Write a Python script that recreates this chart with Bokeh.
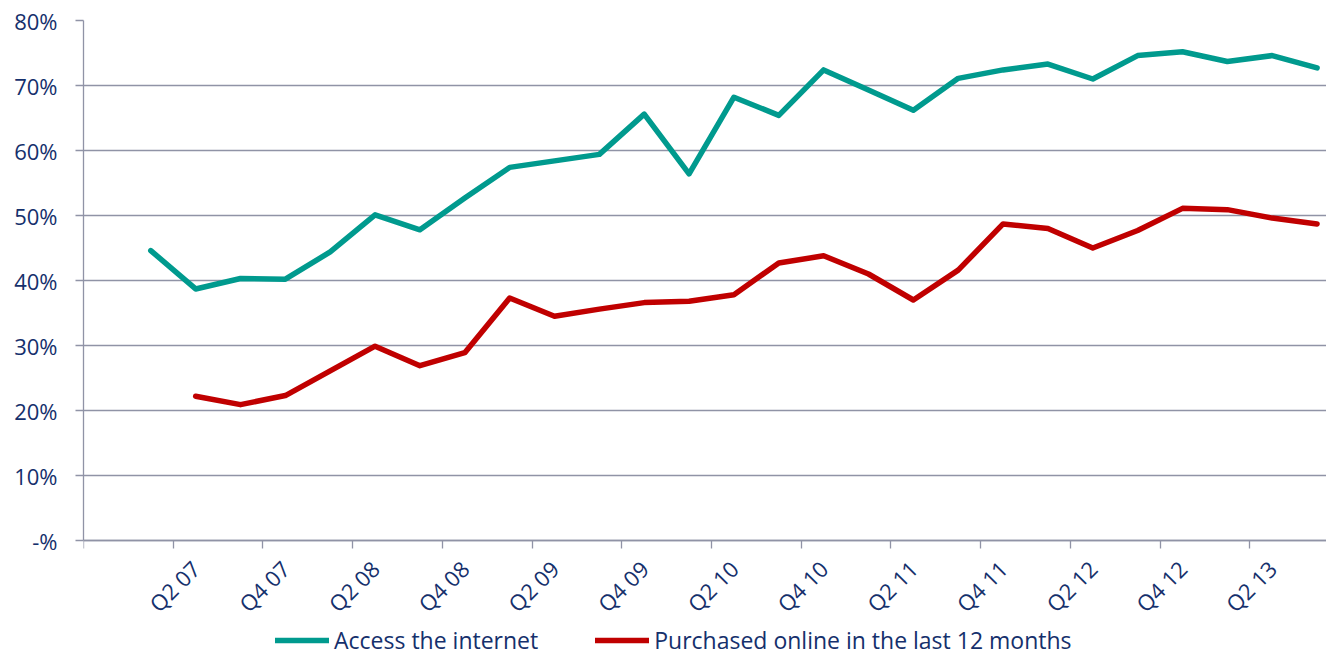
import math
from bokeh.plotting import figure
from bokeh.models import FixedTicker, Range1d, ColumnDataSource
from bokeh.embed import file_html
from bokeh.resources import INLINE

# ---- data -------------------------------------------------------------
quarters = ["Q4 06", "Q1 07", "Q2 07", "Q3 07", "Q4 07", "Q1 08", "Q2 08",
            "Q3 08", "Q4 08", "Q1 09", "Q2 09", "Q3 09", "Q4 09", "Q1 10",
            "Q2 10", "Q3 10", "Q4 10", "Q1 11", "Q2 11", "Q3 11", "Q4 11",
            "Q1 12", "Q2 12", "Q3 12", "Q4 12", "Q1 13", "Q2 13", "Q3 13"]

access_internet = [None, 44.6, 38.7, 40.3, 40.2, 44.4, 50.1, 47.8, 52.7,
                   57.4, 58.4, 59.4, 65.6, 56.4, 68.2, 65.4, 72.4, 69.3,
                   66.2, 71.1, 72.4, 73.3, 71.0, 74.6, 75.2, 73.7, 74.6, 72.7]

purchased_online = [None, None, 22.2, 20.9, 22.3, 26.1, 29.9, 26.9, 28.9,
                    37.3, 34.5, 35.6, 36.6, 36.8, 37.8, 42.7, 43.8, 41.0,
                    37.0, 41.6, 48.7, 48.0, 45.0, 47.7, 51.1, 50.9, 49.6, 48.7]

y_ticks = [0, 10, 20, 30, 40, 50, 60, 70, 80]
y_labels = ["-%", "10%", "20%", "30%", "40%", "50%", "60%", "70%", "80%"]

# ---- style ------------------------------------------------------------
FONT = "Open Sans"
FONT_SIZE = "22px"
LEGEND_FONT_SIZE = "23px"
TEXT_COLOR = "#15306C"
GRID_COLOR = "#9093A6"
TEAL = "#009A8E"
RED = "#C00000"

nan = float("nan")
xpos = [i + 0.5 for i in range(len(quarters))]
src = ColumnDataSource(dict(
    x=xpos,
    access=[nan if v is None else v for v in access_internet],
    purchased=[nan if v is None else v for v in purchased_online],
))

# The frame reaches the bottom of the page; the x axis sits at y = 0 and the
# legend lives in the empty strip under it (inside the frame, so not clipped).
p = figure(frame_width=1243, frame_height=637,
           output_backend="svg", toolbar_location=None,
           x_range=Range1d(0, 27.71), y_range=Range1d(-18, 80),
           min_border_left=83, min_border_right=0, min_border_top=20,
           min_border_bottom=0)
p.outline_line_color = None
p.background_fill_color = "white"
p.border_fill_color = "white"

p.line("x", "access", source=src, color=TEAL, line_width=5.5,
       line_join="round", line_cap="round", legend_label="Access the internet")
p.line("x", "purchased", source=src, color=RED, line_width=5.5,
       line_join="round", line_cap="round",
       legend_label="Purchased online in the last 12 months")

# grid
p.xgrid.grid_line_color = None
p.ygrid.grid_line_color = GRID_COLOR
p.ygrid.grid_line_width = 1.3

# y axis
p.yaxis.ticker = FixedTicker(ticks=y_ticks)
p.yaxis.bounds = (0, 80)
p.yaxis.major_label_overrides = {t: l for t, l in zip(y_ticks, y_labels)}
p.yaxis.axis_line_color = GRID_COLOR
p.yaxis.axis_line_width = 1.3
p.yaxis.major_tick_line_color = GRID_COLOR
p.yaxis.major_tick_line_width = 1.3
p.yaxis.major_tick_out = 8
p.yaxis.major_tick_in = 0
p.yaxis.minor_tick_line_color = None
p.yaxis.major_label_standoff = 18
p.yaxis.major_label_text_font = FONT
p.yaxis.major_label_text_font_size = FONT_SIZE
p.yaxis.major_label_text_color = TEXT_COLOR

# x axis at 0 %: labels on every second quarter, tick marks between pairs
label_idx = list(range(2, len(quarters), 2))
p.xaxis.fixed_location = 0
p.xaxis.ticker = FixedTicker(ticks=[xpos[i] for i in label_idx],
                             minor_ticks=[float(i) for i in range(0, len(quarters), 2)])
p.xaxis.major_label_overrides = {xpos[i]: quarters[i] for i in label_idx}
p.xaxis.axis_line_color = GRID_COLOR
p.xaxis.axis_line_width = 1.3
p.xaxis.major_tick_line_color = None
p.xaxis.major_tick_out = 0
p.xaxis.major_tick_in = 0
p.xaxis.minor_tick_line_color = GRID_COLOR
p.xaxis.minor_tick_line_width = 1.3
p.xaxis.minor_tick_out = 8
p.xaxis.minor_tick_in = 0
p.xaxis.major_label_orientation = math.pi / 4
p.xaxis.major_label_standoff = 16
p.xaxis.major_label_text_font = FONT
p.xaxis.major_label_text_font_size = FONT_SIZE
p.xaxis.major_label_text_color = TEXT_COLOR

# legend
lg = p.legend[0]
lg.orientation = "horizontal"
lg.location = (192, 1)
lg.glyph_width = 54
lg.glyph_height = 20
lg.label_standoff = 5
lg.spacing = 57
lg.padding = 0
lg.margin = 0
lg.border_line_color = None
lg.background_fill_alpha = 0
lg.label_text_font = FONT
lg.label_text_font_size = LEGEND_FONT_SIZE
lg.label_text_color = TEXT_COLOR

open("out.html", "w").write(file_html(p, INLINE))
